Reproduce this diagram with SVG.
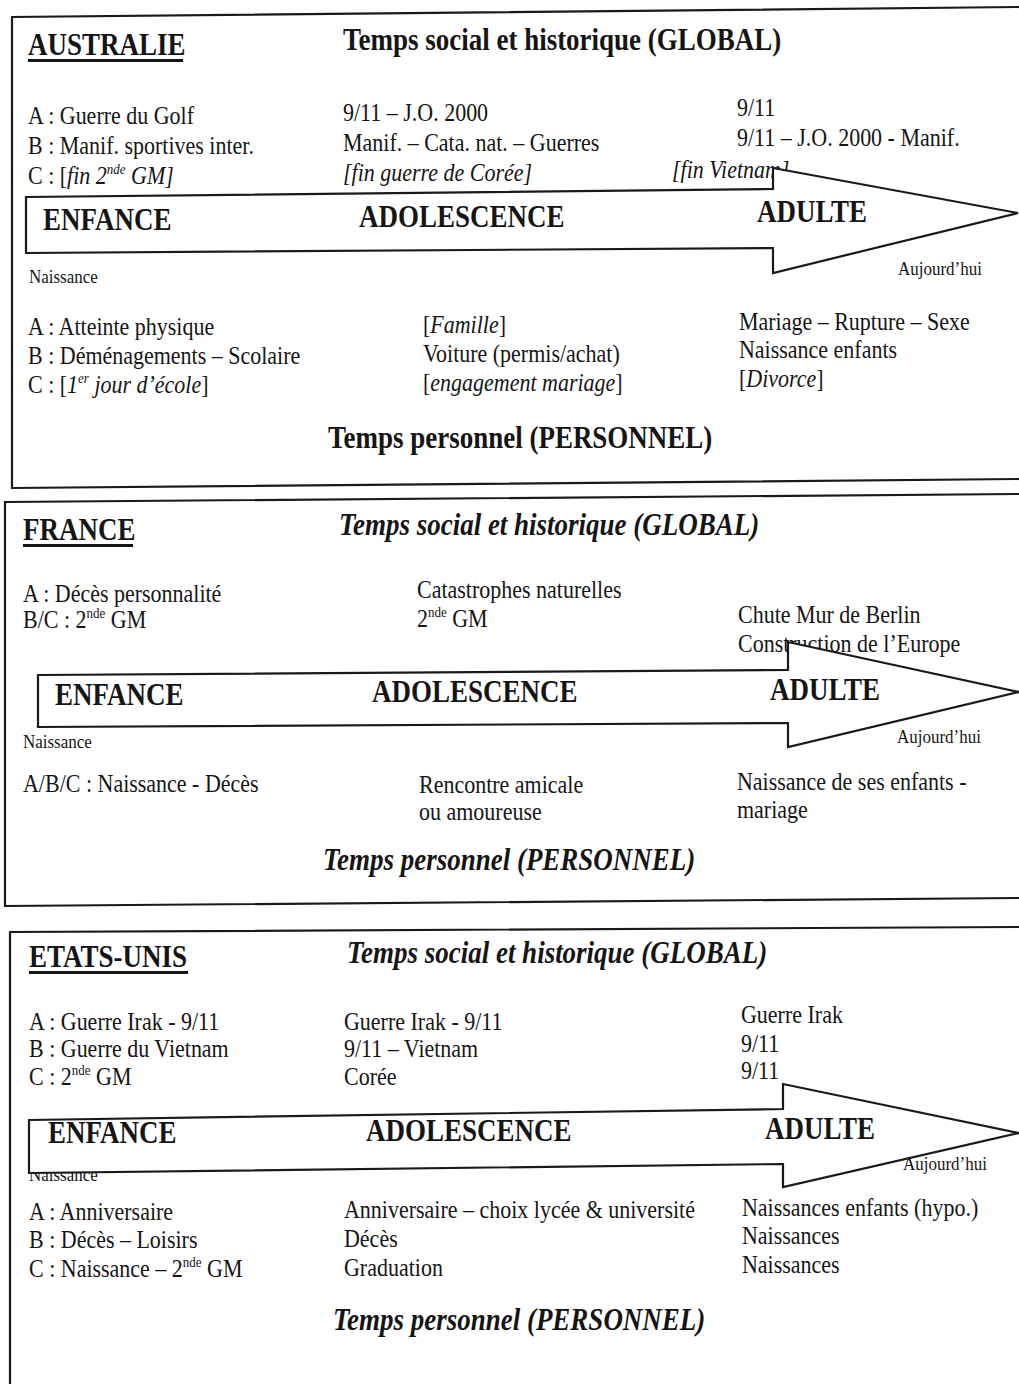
<svg xmlns="http://www.w3.org/2000/svg" width="1019" height="1384" viewBox="0 0 1019 1384">
<style>
  text { font-family: "Liberation Serif", "Times New Roman", serif; fill: #151515;
         transform-box: fill-box; transform-origin: 0 80%; transform: scaleY(1.15); }
  .t { font-size: 22px; }
  .s { font-size: 17px; }
  .h { font-size: 27px; font-weight: bold; }
  .hi { font-size: 27px; font-weight: bold; font-style: italic; }
  .i { font-style: italic; }
  .sup { font-size: 13px; }
  .border { fill: none; stroke: #1a1a1a; stroke-width: 2.2; }
  .ul { stroke: #151515; stroke-width: 3; }
  .arrow { fill: #ffffff; stroke: #1a1a1a; stroke-width: 2.2; stroke-linejoin: miter; }
</style>
<rect x="0" y="0" width="1019" height="1384" fill="#ffffff"/>

<!-- Panel borders -->
<g id="panel-borders">
  <path class="border" d="M1019,7 L12,17 L12,488 L1019,479"/>
  <path class="border" d="M1019,494 L5,502 L5,906 L1019,898"/>
  <path class="border" d="M1019,927 L10,932 L10,1384"/>
</g>

<!-- Panel 1 : AUSTRALIE -->
<g id="australie">
  <g id="australie-header">
    <text class="h" x="28" y="55">AUSTRALIE</text>
    <line class="ul" x1="28" y1="60.5" x2="183" y2="60.5"/>
    <text class="h" x="343" y="50">Temps social et historique (GLOBAL)</text>
  </g>
  <g id="australie-global-enfance">
    <text class="t" x="28" y="124">A : Guerre du Golf</text>
    <text class="t" x="28" y="154">B : Manif. sportives inter.</text>
    <text class="t" x="28" y="184">C : [<tspan class="i">fin 2<tspan class="sup" dy="-9">nde</tspan><tspan dy="9"> GM</tspan>]</tspan></text>
  </g>
  <g id="australie-global-adolescence">
    <text class="t" x="343" y="121">9/11 – J.O. 2000</text>
    <text class="t" x="343" y="151">Manif. – Cata. nat. – Guerres</text>
    <text class="t i" x="343" y="181">[fin guerre de Corée]</text>
  </g>
  <g id="australie-global-adulte">
    <text class="t" x="737" y="116">9/11</text>
    <text class="t" x="737" y="146">9/11 – J.O. 2000 - Manif.</text>
    <text class="t i" x="672" y="178">[fin Vietnam]</text>
  </g>
  <g id="australie-personnel-enfance">
    <text class="t" x="28" y="335">A : Atteinte physique</text>
    <text class="t" x="28" y="364">B : Déménagements – Scolaire</text>
    <text class="t" x="28" y="393">C : [<tspan class="i">1<tspan class="sup" dy="-9">er</tspan><tspan dy="9"> jour d’école</tspan></tspan>]</text>
  </g>
  <g id="australie-personnel-adolescence">
    <text class="t" x="423" y="333">[<tspan class="i">Famille</tspan>]</text>
    <text class="t" x="423" y="362">Voiture (permis/achat)</text>
    <text class="t" x="423" y="391">[<tspan class="i">engagement mariage</tspan>]</text>
  </g>
  <g id="australie-personnel-adulte">
    <text class="t" x="739" y="330">Mariage – Rupture – Sexe</text>
    <text class="t" x="739" y="358">Naissance enfants</text>
    <text class="t" x="739" y="387">[<tspan class="i">Divorce</tspan>]</text>
  </g>
  <text class="s" x="29" y="283">Naissance</text>
  <text class="s" x="898" y="275">Aujourd’hui</text>
  <text class="h" x="328" y="448">Temps personnel (PERSONNEL)</text>
</g>

<!-- Panel 2 : FRANCE -->
<g id="france">
  <g id="france-header">
    <text class="h" x="23" y="540">FRANCE</text>
    <line class="ul" x1="23" y1="545.5" x2="133" y2="545.5"/>
    <text class="hi" x="339" y="535">Temps social et historique (GLOBAL)</text>
  </g>
  <g id="france-global-enfance">
    <text class="t" x="23" y="602">A : Décès personnalité</text>
    <text class="t" x="23" y="628">B/C : 2<tspan class="sup" dy="-9">nde</tspan><tspan dy="9"> GM</tspan></text>
  </g>
  <g id="france-global-adolescence">
    <text class="t" x="417" y="598">Catastrophes naturelles</text>
    <text class="t" x="417" y="627">2<tspan class="sup" dy="-9">nde</tspan><tspan dy="9"> GM</tspan></text>
  </g>
  <g id="france-global-adulte">
    <text class="t" x="738" y="623">Chute Mur de Berlin</text>
    <text class="t" x="738" y="652">Construction de l’Europe</text>
  </g>
  <g id="france-personnel-enfance">
    <text class="t" x="23" y="792">A/B/C : Naissance - Décès</text>
  </g>
  <g id="france-personnel-adolescence">
    <text class="t" x="419" y="793">Rencontre amicale</text>
    <text class="t" x="419" y="820">ou amoureuse</text>
  </g>
  <g id="france-personnel-adulte">
    <text class="t" x="737" y="790">Naissance de ses enfants -</text>
    <text class="t" x="737" y="818">mariage</text>
  </g>
  <text class="s" x="23" y="748">Naissance</text>
  <text class="s" x="897" y="743">Aujourd’hui</text>
  <text class="hi" x="323" y="870">Temps personnel (PERSONNEL)</text>
</g>

<!-- Panel 3 : ETATS-UNIS -->
<g id="etats-unis">
  <g id="etats-unis-header">
    <text class="h" x="29" y="967">ETATS-UNIS</text>
    <line class="ul" x1="29" y1="972.5" x2="188" y2="972.5"/>
    <text class="hi" x="347" y="963">Temps social et historique (GLOBAL)</text>
  </g>
  <g id="etats-unis-global-enfance">
    <text class="t" x="29" y="1030">A : Guerre Irak - 9/11</text>
    <text class="t" x="29" y="1057">B : Guerre du Vietnam</text>
    <text class="t" x="29" y="1085">C : 2<tspan class="sup" dy="-9">nde</tspan><tspan dy="9"> GM</tspan></text>
  </g>
  <g id="etats-unis-global-adolescence">
    <text class="t" x="344" y="1030">Guerre Irak - 9/11</text>
    <text class="t" x="344" y="1057">9/11 – Vietnam</text>
    <text class="t" x="344" y="1085">Corée</text>
  </g>
  <g id="etats-unis-global-adulte">
    <text class="t" x="741" y="1023">Guerre Irak</text>
    <text class="t" x="741" y="1052">9/11</text>
    <text class="t" x="741" y="1079">9/11</text>
  </g>
  <g id="etats-unis-personnel-enfance">
    <text class="t" x="29" y="1220">A : Anniversaire</text>
    <text class="t" x="29" y="1248">B : Décès – Loisirs</text>
    <text class="t" x="29" y="1277">C : Naissance – 2<tspan class="sup" dy="-9">nde</tspan><tspan dy="9"> GM</tspan></text>
  </g>
  <g id="etats-unis-personnel-adolescence">
    <text class="t" x="344" y="1218">Anniversaire – choix lycée &amp; université</text>
    <text class="t" x="344" y="1247">Décès</text>
    <text class="t" x="344" y="1276">Graduation</text>
  </g>
  <g id="etats-unis-personnel-adulte">
    <text class="t" x="742" y="1216">Naissances enfants (hypo.)</text>
    <text class="t" x="742" y="1244">Naissances</text>
    <text class="t" x="742" y="1273">Naissances</text>
  </g>
  <text class="s" x="29" y="1181">Naissance</text>
  <text class="hi" x="333" y="1330">Temps personnel (PERSONNEL)</text>
</g>

<!-- Timeline arrows (connectors) -->
<g id="connectors">
  <polygon id="arrow-australie" class="arrow" points="26,197 773,189 773,168 1018,213 773,273 773,248 26,253"/>
  <polygon id="arrow-france" class="arrow" points="38,675 788,670 788,642 1019,692 788,747 788,723 38,727"/>
  <polygon id="arrow-etats-unis" class="arrow" points="29,1120 783,1109 783,1084 1019,1133 783,1187 783,1164 29,1173"/>
</g>

<!-- Stage labels on arrows -->
<g id="stages-australie">
  <text class="h" x="43" y="230">ENFANCE</text>
  <text class="h" x="359" y="227">ADOLESCENCE</text>
  <text class="h" x="757" y="222">ADULTE</text>
</g>
<g id="stages-france">
  <text class="h" x="55" y="705">ENFANCE</text>
  <text class="h" x="372" y="702">ADOLESCENCE</text>
  <text class="h" x="770" y="700">ADULTE</text>
</g>
<g id="stages-etats-unis">
  <text class="h" x="48" y="1143">ENFANCE</text>
  <text class="h" x="366" y="1141">ADOLESCENCE</text>
  <text class="h" x="765" y="1139">ADULTE</text>
  <text class="s" x="903" y="1170">Aujourd’hui</text>
</g>
</svg>
